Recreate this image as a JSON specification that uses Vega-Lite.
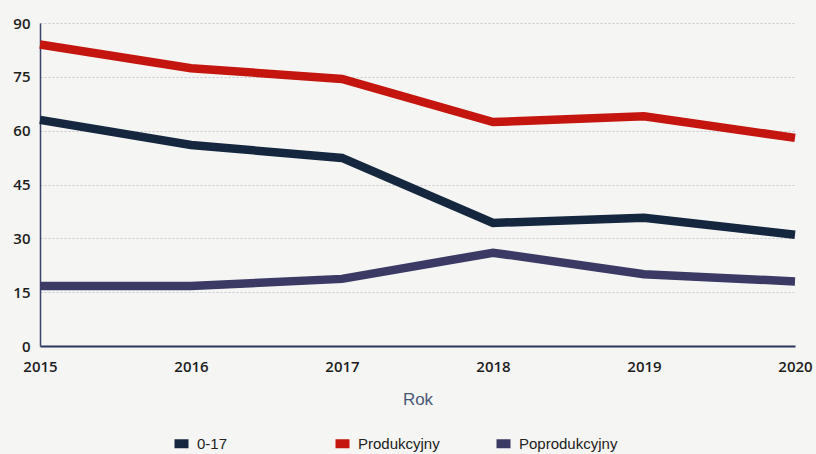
{
  "$schema": "https://vega.github.io/schema/vega-lite/v6.json",
  "width": 755,
  "height": 323,
  "autosize": {"type": "none"},
  "padding": {"left": 40, "top": 23, "right": 21, "bottom": 108},
  "background": "#f5f5f3",
  "config": {
    "view": {"stroke": null},
    "font": "Liberation Sans"
  },
  "data": {
    "values": [
      {"Rok": 2015, "grupa": "0-17", "v": 63},
      {"Rok": 2016, "grupa": "0-17", "v": 56},
      {"Rok": 2017, "grupa": "0-17", "v": 52.4},
      {"Rok": 2018, "grupa": "0-17", "v": 34.3},
      {"Rok": 2019, "grupa": "0-17", "v": 35.7},
      {"Rok": 2020, "grupa": "0-17", "v": 31},
      {"Rok": 2015, "grupa": "Produkcyjny", "v": 84},
      {"Rok": 2016, "grupa": "Produkcyjny", "v": 77.4},
      {"Rok": 2017, "grupa": "Produkcyjny", "v": 74.4},
      {"Rok": 2018, "grupa": "Produkcyjny", "v": 62.4},
      {"Rok": 2019, "grupa": "Produkcyjny", "v": 64},
      {"Rok": 2020, "grupa": "Produkcyjny", "v": 58},
      {"Rok": 2015, "grupa": "Poprodukcyjny", "v": 16.7},
      {"Rok": 2016, "grupa": "Poprodukcyjny", "v": 16.7},
      {"Rok": 2017, "grupa": "Poprodukcyjny", "v": 18.7},
      {"Rok": 2018, "grupa": "Poprodukcyjny", "v": 26},
      {"Rok": 2019, "grupa": "Poprodukcyjny", "v": 20},
      {"Rok": 2020, "grupa": "Poprodukcyjny", "v": 18}
    ]
  },
  "mark": {"type": "line", "strokeWidth": 8.5, "strokeCap": "butt", "strokeJoin": "miter"},
  "encoding": {
    "x": {
      "field": "Rok", "type": "quantitative",
      "scale": {"domain": [2015, 2020], "nice": false, "zero": false},
      "axis": {
        "title": "Rok", "values": [2015, 2016, 2017, 2018, 2019, 2020], "format": "d",
        "grid": false, "ticks": false,
        "domainColor": "#2b3560", "domainWidth": 2,
        "labelFont": "Open Sans", "labelFontWeight": 600, "labelFontSize": 15, "labelColor": "#1e1e1e",
        "labelPadding": 13, "labelFlush": false,
        "titleFont": "Liberation Sans", "titleFontWeight": "normal", "titleFontSize": 17, "titleColor": "#4a5878",
        "titlePadding": 17
      }
    },
    "y": {
      "field": "v", "type": "quantitative",
      "scale": {"domain": [0, 90], "nice": false},
      "axis": {
        "title": null, "values": [0, 15, 30, 45, 60, 75, 90],
        "ticks": false,
        "domainColor": "#3a4468", "domainWidth": 1.5,
        "grid": true, "gridColor": "#c9c6d0", "gridDash": [2, 2], "gridWidth": 1,
        "labelFont": "Open Sans", "labelFontWeight": 600, "labelFontSize": 15, "labelColor": "#1e1e1e",
        "labelPadding": 10
      }
    },
    "color": {
      "field": "grupa", "type": "nominal",
      "scale": {"domain": ["0-17", "Produkcyjny", "Poprodukcyjny"], "range": ["#14273f", "#c4160e", "#3a3a64"]},
      "legend": {
        "title": null, "orient": "none", "legendX": 130, "legendY": 409,
        "direction": "horizontal", "columns": 3, "gridAlign": "all", "columnPadding": 21,
        "symbolType": "stroke", "symbolSize": 196, "symbolStrokeWidth": 9,
        "labelFont": "Liberation Sans", "labelFontSize": 15, "labelColor": "#222222", "labelOffset": 4
      }
    }
  }
}
